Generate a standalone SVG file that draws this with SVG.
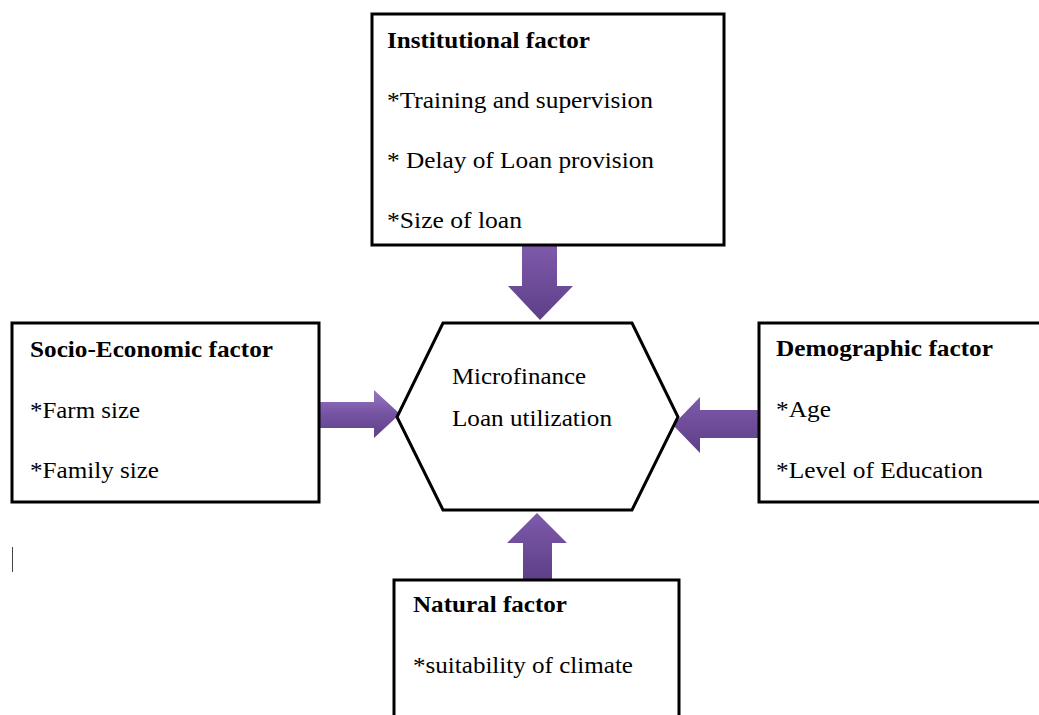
<svg xmlns="http://www.w3.org/2000/svg" width="1039" height="715" viewBox="0 0 1039 715">
<style>
.box{fill:#fff;stroke:#000;stroke-width:3}
.t{font-family:"Liberation Serif","Times New Roman",serif;font-size:23px;fill:#000}
.b{font-weight:bold}
.arr{stroke:none}
</style>
<defs>
<linearGradient id="gv" x1="0" y1="0" x2="0" y2="1">
<stop offset="0" stop-color="#7e5aab"/>
<stop offset="1" stop-color="#5e3f87"/>
</linearGradient>
<linearGradient id="gh" x1="0" y1="0" x2="0" y2="1">
<stop offset="0" stop-color="#9877c2"/>
<stop offset="0.5" stop-color="#7553a3"/>
<stop offset="1" stop-color="#5e3f87"/>
</linearGradient>
</defs>
<rect width="1039" height="715" fill="#fff"/>
<g id="connectors">
<polygon class="arr" fill="url(#gv)" points="522,245 557,245 557,286 573,286 540,320 508,286 522,286"/>
<polygon class="arr" fill="url(#gh)" points="320,402 374,402 374,390 400,414 374,438 374,428 320,428"/>
<polygon class="arr" fill="url(#gv)" points="759,410 700,410 700,397 673,425 700,453 700,438 759,438"/>
<polygon class="arr" fill="url(#gv)" points="523,580 552,580 552,543 567,543 537,513 507,543 523,543"/>
</g>
<g id="institutional">
<rect class="box" x="372" y="14" width="352" height="231"/>
<text class="t b" x="387" y="48" textLength="203" lengthAdjust="spacingAndGlyphs">Institutional factor</text>
<text class="t" x="387" y="108" textLength="266" lengthAdjust="spacingAndGlyphs">*Training and supervision</text>
<text class="t" x="387" y="168" textLength="267" lengthAdjust="spacingAndGlyphs">* Delay of Loan provision</text>
<text class="t" x="387" y="228" textLength="135" lengthAdjust="spacingAndGlyphs">*Size of loan</text>
</g>
<g id="center">
<polygon class="box" points="443,323 632,323 678,417 632,510 443,510 397,417"/>
<text class="t" x="452" y="384" textLength="134" lengthAdjust="spacingAndGlyphs">Microfinance</text>
<text class="t" x="452" y="426" textLength="160" lengthAdjust="spacingAndGlyphs">Loan utilization</text>
</g>
<g id="socio">
<rect class="box" x="12" y="323" width="307" height="179"/>
<text class="t b" x="30" y="357" textLength="243" lengthAdjust="spacingAndGlyphs">Socio-Economic factor</text>
<text class="t" x="30" y="418" textLength="110" lengthAdjust="spacingAndGlyphs">*Farm size</text>
<text class="t" x="30" y="478" textLength="129" lengthAdjust="spacingAndGlyphs">*Family size</text>
</g>
<g id="demographic">
<rect class="box" x="759" y="323" width="290" height="179"/>
<text class="t b" x="776" y="356" textLength="217" lengthAdjust="spacingAndGlyphs">Demographic factor</text>
<text class="t" x="776" y="417" textLength="55" lengthAdjust="spacingAndGlyphs">*Age</text>
<text class="t" x="776" y="478" textLength="207" lengthAdjust="spacingAndGlyphs">*Level of Education</text>
</g>
<g id="natural">
<rect class="box" x="394" y="580" width="285" height="150"/>
<text class="t b" x="413" y="612" textLength="154" lengthAdjust="spacingAndGlyphs">Natural factor</text>
<text class="t" x="413" y="673" textLength="220" lengthAdjust="spacingAndGlyphs">*suitability of climate</text>
</g>
<line x1="12.5" y1="547" x2="12.5" y2="572" stroke="#444" stroke-width="1"/>
</svg>
